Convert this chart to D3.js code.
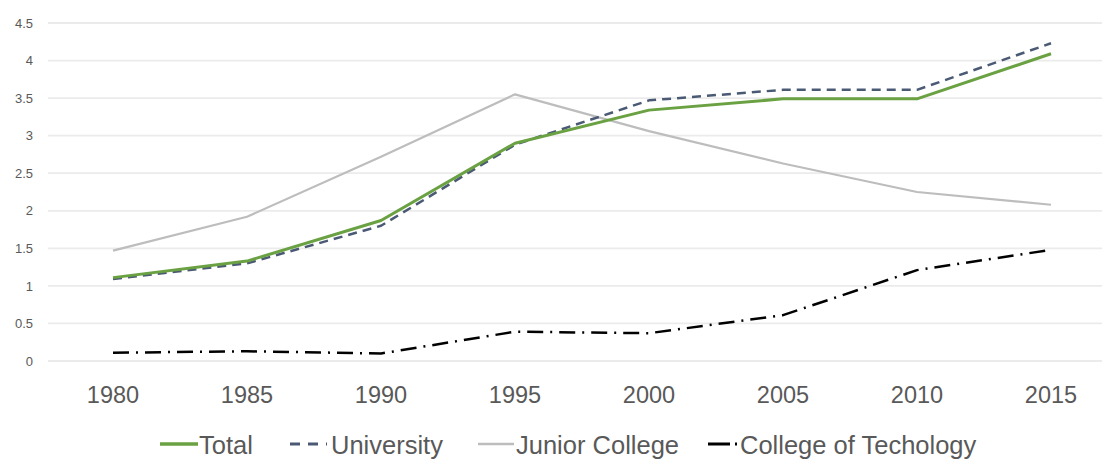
<!DOCTYPE html>
<html>
<head>
<meta charset="utf-8">
<script src="https://cdn.jsdelivr.net/npm/d3@7/dist/d3.min.js"></script>
<style>
  html, body { margin: 0; padding: 0; background: #fff; }
  svg { display: block; }
  text { font-family: "Liberation Sans", Arial, sans-serif; }
</style>
</head>
<body>
<svg id="chart" width="1102" height="460"></svg>
<script>
// Enrolment ratio by type of institution, 1980–2015
const years = ["1980", "1985", "1990", "1995", "2000", "2005", "2010", "2015"];
const total = [1.11, 1.33, 1.87, 2.90, 3.34, 3.49, 3.49, 4.09];
const university = [1.09, 1.30, 1.80, 2.88, 3.47, 3.61, 3.61, 4.23];
const juniorCollege = [1.47, 1.92, 2.72, 3.55, 3.06, 2.63, 2.25, 2.08];
const collegeOfTechnology = [0.11, 0.13, 0.10, 0.39, 0.37, 0.61, 1.21, 1.48];
const yTicks = [0, 0.5, 1, 1.5, 2, 2.5, 3, 3.5, 4, 4.5];

const series = [
  { name: "Total", values: total, color: "#6aa142", width: 3, dash: null },
  { name: "University", values: university, color: "#4a5a74", width: 2.5, dash: "9,6" },
  { name: "Junior College", values: juniorCollege, color: "#bdbdbd", width: 2.2, dash: null },
  { name: "College of Techology", values: collegeOfTechnology, color: "#000000", width: 2.5, dash: "16,7,2,7" }
];

const svg = d3.select("#chart");
const plotLeft = 46, plotRight = 1118, plotTop = 23, plotBottom = 361;

const x = d3.scaleBand().domain(years).range([plotLeft, plotRight]);
const xc = d => x(d) + x.bandwidth() / 2;
const y = d3.scaleLinear().domain([0, 4.5]).range([plotBottom, plotTop]);

// horizontal gridlines
svg.append("g")
  .selectAll("line")
  .data(yTicks)
  .join("line")
  .attr("x1", 48).attr("x2", 1102)
  .attr("y1", d => y(d)).attr("y2", d => y(d))
  .attr("stroke", "#ebebeb").attr("stroke-width", 1.8);

// y axis labels
const yAxis = d3.axisLeft(y).tickValues(yTicks).tickSize(0).tickPadding(0)
  .tickFormat(d => String(d));
svg.append("g")
  .attr("transform", "translate(33,0)")
  .call(yAxis)
  .call(g => g.select(".domain").remove())
  .call(g => g.selectAll("text")
    .attr("fill", "#595959")
    .style("font-size", "13px")
    .style("font-family", "'Liberation Sans', Arial, sans-serif"));

// x axis labels
const xAxis = d3.axisBottom(x).tickSize(0).tickPadding(0);
svg.append("g")
  .attr("transform", "translate(0,386)")
  .call(xAxis)
  .call(g => g.select(".domain").remove())
  .call(g => g.selectAll("text")
    .attr("fill", "#595959")
    .style("font-size", "23.5px")
    .style("font-family", "'Liberation Sans', Arial, sans-serif"));

// series lines
const line = d3.line().x((d, i) => xc(years[i])).y(d => y(d));
svg.append("g")
  .selectAll("path")
  .data(series.slice().reverse())
  .join("path")
  .attr("d", s => line(s.values))
  .attr("fill", "none")
  .attr("stroke", s => s.color)
  .attr("stroke-width", s => s.width)
  .attr("stroke-dasharray", s => s.dash)
  .attr("stroke-linejoin", "round");

// legend
const legendItems = [
  { s: series[0], x1: 160, x2: 198, tx: 199, dash: null },
  { s: series[1], x1: 290, x2: 327, tx: 331, dash: "10,8" },
  { s: series[2], x1: 478, x2: 514, tx: 516, dash: null },
  { s: series[3], x1: 708, x2: 738, tx: 740, dash: "22,5,2,5" }
];
const legend = svg.append("g");
legendItems.forEach(it => {
  legend.append("line")
    .attr("x1", it.x1).attr("x2", it.x2)
    .attr("y1", 444).attr("y2", 444)
    .attr("stroke", it.s.color)
    .attr("stroke-width", it.s.width + 0.5)
    .attr("stroke-dasharray", it.dash);
  legend.append("text")
    .attr("x", it.tx).attr("y", 454)
    .attr("fill", "#595959")
    .style("font-size", "25.5px")
    .text(it.s.name);
});
</script>
</body>
</html>
